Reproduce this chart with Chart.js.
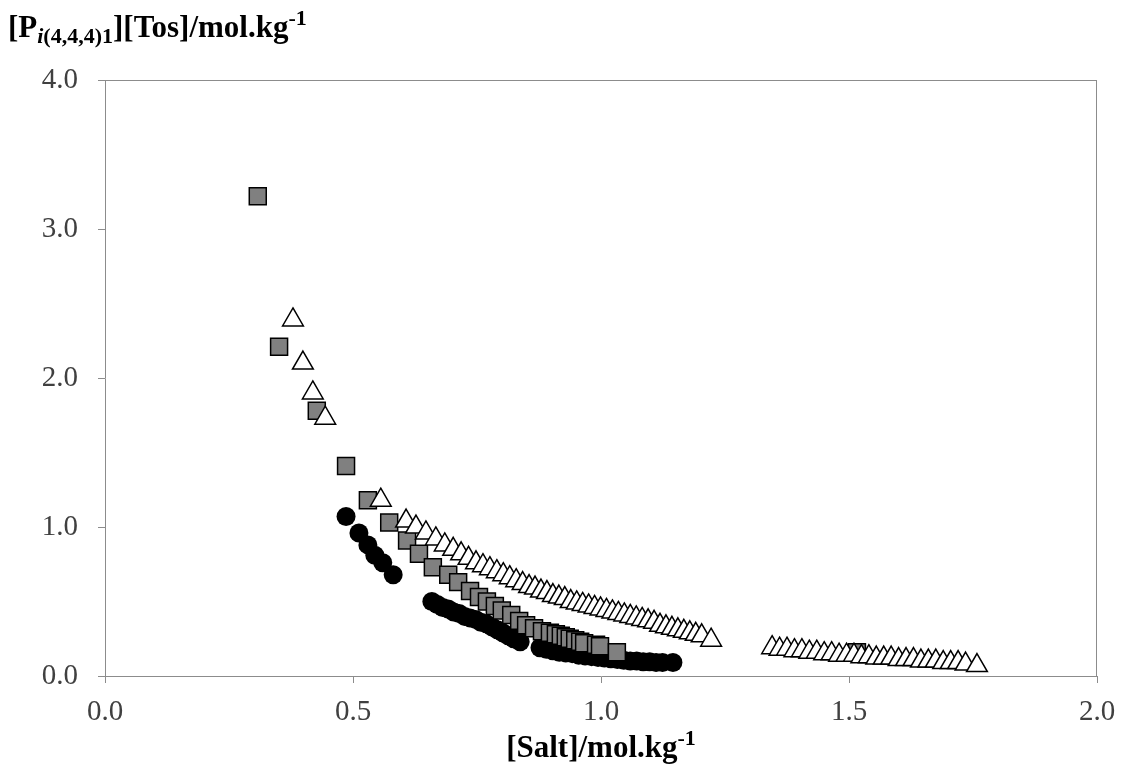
<!DOCTYPE html>
<html>
<head>
<meta charset="utf-8">
<script src="https://cdn.jsdelivr.net/npm/chart.js@4.4.0/dist/chart.umd.min.js"></script>
<style>
html,body{margin:0;padding:0;background:#fff;}
#wrap{width:1122px;height:776px;}
</style>
</head>
<body>
<div id="wrap"><canvas id="salt"></canvas></div>
<script>
// [Salt] vs [Pi(4,4,4)1][Tos], mol/kg

const triX=[0.379,0.399,0.419,0.444,0.556,0.607,0.627,0.647,0.667,0.685,0.702,0.718,0.733,0.748,0.762,0.776,0.790,0.803,0.816,0.829,0.842,0.855,0.867,0.879,0.891,0.903,0.915,0.927,0.939,0.951,0.963,0.975,0.987,0.999,1.011,1.023,1.035,1.047,1.059,1.071,1.083,1.095,1.107,1.119,1.131,1.143,1.155,1.167,1.179,1.191,1.203,1.222,
1.345,1.360,1.375,1.390,1.405,1.420,1.435,1.450,1.465,1.480,1.495,1.510,1.525,1.540,1.555,1.570,1.585,1.600,1.615,1.630,1.645,1.660,1.675,1.690,1.705,1.720,1.735,1.758];
const triY=[2.39,2.10,1.90,1.73,1.18,1.04,1.00,0.96,0.92,0.88,0.85,0.82,0.79,0.76,0.74,0.72,0.70,0.68,0.66,0.64,0.62,0.60,0.59,0.57,0.56,0.54,0.53,0.52,0.50,0.49,0.48,0.47,0.46,0.45,0.44,0.43,0.42,0.41,0.40,0.39,0.38,0.37,0.36,0.34,0.33,0.32,0.31,0.30,0.29,0.28,0.27,0.24,
0.19,0.18,0.18,0.17,0.17,0.16,0.16,0.15,0.15,0.14,0.14,0.14,0.13,0.13,0.12,0.12,0.12,0.11,0.11,0.11,0.10,0.10,0.10,0.09,0.09,0.09,0.08,0.07];

const sqX=[0.308,0.351,0.427,0.486,0.530,0.573,0.609,0.633,0.661,0.692,0.712,0.736,0.754,0.770,0.786,0.800,0.819,0.835,0.849,0.865,0.881,0.897,0.909,0.919,0.929,0.937,0.948,0.958,0.966,0.990,0.998,1.032,1.516];
const sqY=[3.22,2.21,1.78,1.41,1.18,1.03,0.91,0.82,0.73,0.68,0.63,0.57,0.53,0.50,0.47,0.44,0.41,0.37,0.34,0.32,0.30,0.29,0.28,0.27,0.26,0.25,0.24,0.23,0.22,0.21,0.20,0.16,0.16];

const circX=[0.486,0.512,0.530,0.544,0.560,0.581,
0.659,0.670,0.681,0.692,0.703,0.714,0.725,0.736,0.747,0.758,0.769,0.780,0.791,0.802,0.813,0.824,0.837,
0.877,0.890,0.903,0.916,0.929,0.942,0.955,0.968,0.981,0.994,1.007,1.020,1.033,1.046,1.059,1.072,1.085,1.098,1.111,1.124,1.145];
const circY=[1.07,0.96,0.88,0.81,0.76,0.68,
0.50,0.48,0.46,0.45,0.43,0.42,0.40,0.39,0.38,0.36,0.35,0.33,0.31,0.29,0.27,0.25,0.23,
0.19,0.18,0.17,0.16,0.155,0.15,0.14,0.135,0.13,0.125,0.12,0.115,0.11,0.105,0.10,0.10,0.095,0.095,0.09,0.09,0.09];

const xTicks=[0,0.5,1.0,1.5,2.0];
const yTicks=[0,1,2,3,4];

function pts(xs,ys){return xs.map((x,i)=>({x:x,y:ys[i]}));}

const serif='"Liberation Serif","Times New Roman",serif';

function drawRich(ctx,parts,x,y,align){
  let w=0;
  parts.forEach(p=>{ctx.font=p.f;w+=ctx.measureText(p.t).width;});
  let cx=align==='center'?x-w/2:x;
  parts.forEach(p=>{
    ctx.font=p.f;
    ctx.fillText(p.t,cx,y+(p.dy||0));
    cx+=ctx.measureText(p.t).width;
  });
}

const framePlugin={
  id:'frame',
  afterDraw(chart){
    const ctx=chart.ctx, a=chart.chartArea;
    ctx.save();
    ctx.strokeStyle='#8c8c8c';
    ctx.lineWidth=1;
    ctx.beginPath();
    ctx.moveTo(a.left,a.top+0.5);ctx.lineTo(a.right,a.top+0.5);
    ctx.moveTo(a.right-0.5,a.top);ctx.lineTo(a.right-0.5,a.bottom);
    ctx.stroke();
    ctx.fillStyle='#000';
    ctx.textBaseline='alphabetic';
    ctx.textAlign='left';
    const big='bold 31px '+serif, small='bold 22px '+serif, smallIt='italic bold 22px '+serif;
    drawRich(ctx,[
      {t:'[P',f:big},
      {t:'i',f:smallIt,dy:6},
      {t:'(4,4,4)1',f:small,dy:6},
      {t:'][Tos]/mol.kg',f:big},
      {t:'-1',f:small,dy:-12}
    ],8,37,'left');
    drawRich(ctx,[
      {t:'[Salt]/mol.kg',f:big},
      {t:'-1',f:small,dy:-12}
    ],(a.left+a.right)/2,757,'center');
    ctx.restore();
  }
};

new Chart(document.getElementById('salt'),{
  type:'scatter',
  data:{
    datasets:[
      {label:'tri',data:pts(triX,triY),pointStyle:'triangle',pointRadius:12,
       backgroundColor:'#ffffff',borderColor:'#000000',borderWidth:1.5},
      {label:'sq',data:pts(sqX,sqY),pointStyle:'rect',pointRadius:12,
       backgroundColor:'#808080',borderColor:'#000000',borderWidth:1.5},
      {label:'circ',data:pts(circX,circY),pointStyle:'circle',pointRadius:9.5,
       backgroundColor:'#000000',borderColor:'#000000',borderWidth:0}
    ]
  },
  options:{
    responsive:true,
    maintainAspectRatio:false,
    animation:false,
    events:[],
    layout:{padding:{left:0,right:25,top:80,bottom:0}},
    plugins:{legend:{display:false},tooltip:{enabled:false}},
    scales:{
      x:{
        type:'linear',min:0,max:2,
        afterBuildTicks(s){s.ticks=xTicks.map(v=>({value:v}));},
        afterFit(s){s.height=100;s.paddingLeft=0;s.paddingRight=0;},
        grid:{display:true,drawOnChartArea:false,drawTicks:true,tickLength:7,color:'#8c8c8c'},
        border:{color:'#8c8c8c'},
        ticks:{padding:12,color:'#404040',font:{family:serif,size:29},maxRotation:0,
          callback:v=>Number(v).toFixed(1)}
      },
      y:{
        type:'linear',min:0,max:4,
        afterBuildTicks(s){s.ticks=yTicks.map(v=>({value:v}));},
        afterFit(s){s.width=105;s.paddingTop=0;s.paddingBottom=0;},
        grid:{display:true,drawOnChartArea:false,drawTicks:true,tickLength:7,color:'#8c8c8c'},
        border:{color:'#8c8c8c'},
        ticks:{padding:20,color:'#404040',font:{family:serif,size:29},
          callback:v=>Number(v).toFixed(1)}
      }
    }
  },
  plugins:[framePlugin]
});
</script>
</body>
</html>
